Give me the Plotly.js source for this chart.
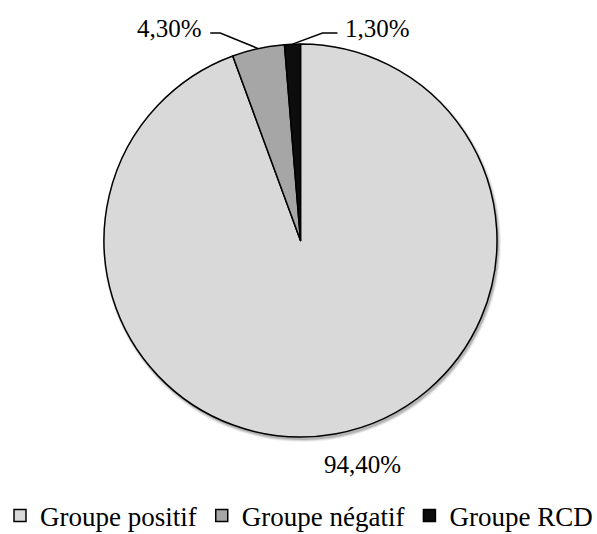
<!DOCTYPE html>
<html>
<head>
<meta charset="utf-8">
<script src="https://cdn.plot.ly/plotly-3.0.1.min.js"></script>
<style>html,body{margin:0;padding:0;background:#fff;}#chart{width:597px;height:534px;}</style>
</head>
<body>
<div id="chart"></div>
<script>
// ---- data ----
var categories = ['Groupe positif', 'Groupe négatif', 'Groupe RCD'];
var values = [94.4, 4.3, 1.3];
var sliceColors = ['#d9d9d9', '#a6a6a6', '#0d0d0d'];

// ---- layout geometry (pixels) ----
var W = 597, H = 534;
var cx = 300.5, cy = 240.5, R = 196.5;
var FONT = 'Liberation Serif';

function fmt(v) { return v.toFixed(2).replace('.', ',') + '%'; }
function px2x(px) { return px / W; }
function py2y(py) { return 1 - py / H; }

// slice mid angles (clockwise from 12 o'clock)
var total = values.reduce(function (a, b) { return a + b; }, 0);
var mids = [], acc = 0;
values.forEach(function (v) { mids.push((acc + v / 2) / total * 360); acc += v; });
function edge(theta, d) {
  var t = theta * Math.PI / 180;
  return [cx + d * Math.sin(t), cy - d * Math.cos(t)];
}

var labelStyle = [
  {type: 'radial', d: 228, xs: 22, ys: 0},
  {type: 'leader', elbowY: 33, elbowDx: -38, hLen: -10, gap: -6, textY: 28},
  {type: 'leader', elbowY: 33, elbowDx: 30, hLen: 15, gap: 6, textY: 28}
];

var annotations = [], shapes = [];

// soft drop shadow under the pie (decoration)
[[0.5, 0.16], [1.5, 0.10], [2.5, 0.06]].forEach(function (sh) {
  var dx = 1.5, dy = 2.5, r = R + sh[0];
  shapes.push({
    type: 'circle', xref: 'paper', yref: 'paper', layer: 'below',
    x0: px2x(cx + dx - r), x1: px2x(cx + dx + r),
    y0: py2y(cy + dy + r), y1: py2y(cy + dy - r),
    fillcolor: 'rgba(0,0,0,' + sh[1] + ')', line: {width: 0}
  });
});

values.forEach(function (v, i) {
  var s = labelStyle[i];
  if (s.type === 'radial') {
    var p = edge(mids[i], s.d);
    annotations.push({
      xref: 'paper', yref: 'paper', x: px2x(p[0] + s.xs), y: py2y(p[1] + s.ys),
      xanchor: 'center', yanchor: 'middle', showarrow: false,
      text: fmt(v), font: {family: FONT, size: 25, color: '#000'}
    });
  } else {
    var e = edge(mids[i], R);
    var ex = e[0] + s.elbowDx, ey = s.elbowY;
    var hx = ex + s.hLen;
    shapes.push({
      type: 'path', xref: 'paper', yref: 'paper',
      path: 'M' + px2x(e[0]) + ',' + py2y(e[1]) + ' L' + px2x(ex) + ',' + py2y(ey) + ' L' + px2x(hx) + ',' + py2y(ey),
      line: {color: '#000', width: 1.5}
    });
    annotations.push({
      xref: 'paper', yref: 'paper', x: px2x(hx + s.gap), y: py2y(s.textY),
      xanchor: s.hLen < 0 ? 'right' : 'left', yanchor: 'middle', showarrow: false,
      text: fmt(v), font: {family: FONT, size: 25, color: '#000'}
    });
  }
});

var trace = {
  type: 'pie',
  labels: categories,
  values: values,
  sort: false,
  direction: 'clockwise',
  rotation: 0,
  textinfo: 'none',
  hoverinfo: 'label+percent',
  marker: {colors: sliceColors, line: {color: '#000', width: 1.5}},
  domain: {x: [px2x(cx - R), px2x(cx + R)], y: [py2y(cy + R), py2y(cy - R)]}
};

var layout = {
  width: W, height: H,
  margin: {l: 0, r: 0, t: 0, b: 0, autoexpand: false},
  paper_bgcolor: '#fff',
  font: {family: FONT, color: '#000'},
  showlegend: true,
  legend: {
    orientation: 'h', x: 0, xanchor: 'left', y: py2y(516), yanchor: 'middle',
    font: {family: FONT, size: 27, color: '#000'},
    traceorder: 'normal', tracegroupgap: 0
  },
  annotations: annotations,
  shapes: shapes
};

Plotly.newPlot('chart', [trace], layout, {staticPlot: true});
</script>
</body>
</html>
